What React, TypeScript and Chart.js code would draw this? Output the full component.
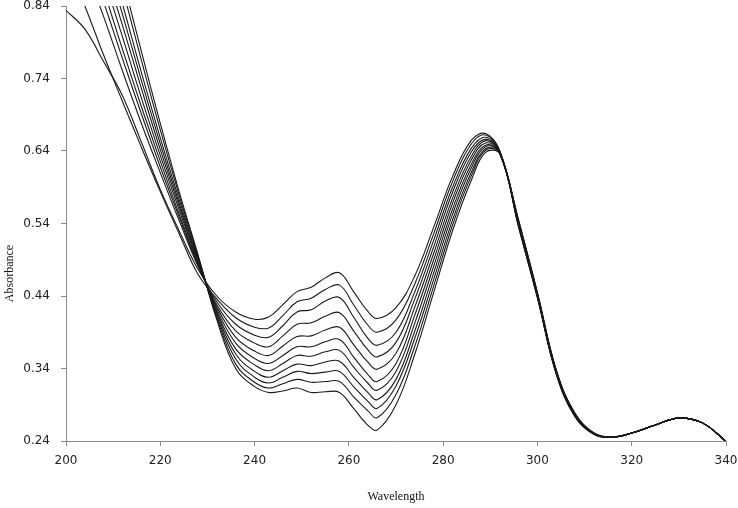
import React, { useEffect, useRef } from "react";
import { Chart, registerables } from "chart.js";

Chart.register(...registerables);

// Wavelength grid (nm)
const wavelengths = [
  200, 204, 208, 212, 216, 220, 224, 228, 232, 236, 240, 243, 246, 249, 252, 255, 258, 261, 264, 266,
  270, 274, 278, 282, 286, 289, 292, 296, 300, 304, 308, 312, 316, 320, 325, 330, 335, 340,
];

// Absorbance spectra
const curve1 = [
  0.834, 0.808, 0.763, 0.716, 0.652, 0.587, 0.530, 0.477, 0.440, 0.418, 0.408, 0.411, 0.428, 0.446, 0.452, 0.465, 0.472, 0.446, 0.419, 0.409,
  0.424, 0.468, 0.535, 0.605, 0.655, 0.664, 0.640, 0.545, 0.445, 0.338, 0.278, 0.251, 0.246, 0.251, 0.262, 0.2715, 0.265, 0.2395,
];
const curve2 = [
  0.902, 0.840, 0.772, 0.708, 0.645, 0.584, 0.526, 0.470, 0.436, 0.410, 0.397, 0.396, 0.413, 0.432, 0.437, 0.449, 0.455, 0.428, 0.400, 0.390,
  0.407, 0.457, 0.526, 0.598, 0.650, 0.662, 0.640, 0.544, 0.444, 0.337, 0.2775, 0.251, 0.246, 0.251, 0.262, 0.2715, 0.265, 0.2395,
];
const curve3 = [
  0.964, 0.895, 0.825, 0.750, 0.678, 0.610, 0.544, 0.481, 0.432, 0.401, 0.386, 0.383, 0.399, 0.418, 0.421, 0.433, 0.438, 0.411, 0.382, 0.372,
  0.390, 0.446, 0.517, 0.590, 0.644, 0.659, 0.640, 0.543, 0.443, 0.337, 0.277, 0.2506, 0.2458, 0.251, 0.262, 0.2715, 0.265, 0.2395,
];
const curve4 = [
  0.990, 0.918, 0.845, 0.767, 0.691, 0.618, 0.549, 0.483, 0.428, 0.392, 0.375, 0.370, 0.385, 0.401, 0.403, 0.412, 0.417, 0.392, 0.366, 0.356,
  0.376, 0.436, 0.508, 0.583, 0.639, 0.656, 0.639, 0.542, 0.443, 0.336, 0.2765, 0.2505, 0.2457, 0.251, 0.262, 0.2715, 0.265, 0.2395,
];
const curve5 = [
  1.011, 0.936, 0.861, 0.780, 0.701, 0.626, 0.553, 0.485, 0.425, 0.383, 0.364, 0.358, 0.371, 0.384, 0.385, 0.393, 0.397, 0.373, 0.349, 0.339,
  0.361, 0.425, 0.499, 0.575, 0.633, 0.654, 0.639, 0.541, 0.442, 0.336, 0.276, 0.2503, 0.2456, 0.251, 0.262, 0.2715, 0.265, 0.2395,
];
const curve6 = [
  1.036, 0.958, 0.879, 0.797, 0.713, 0.634, 0.559, 0.487, 0.422, 0.375, 0.354, 0.347, 0.358, 0.370, 0.370, 0.377, 0.380, 0.356, 0.332, 0.322,
  0.347, 0.414, 0.490, 0.568, 0.628, 0.651, 0.639, 0.540, 0.441, 0.335, 0.2755, 0.2501, 0.2455, 0.251, 0.262, 0.2715, 0.265, 0.2395,
];
const curve7 = [
  1.060, 0.979, 0.897, 0.813, 0.726, 0.642, 0.564, 0.489, 0.419, 0.367, 0.345, 0.337, 0.347, 0.358, 0.357, 0.363, 0.365, 0.342, 0.320, 0.310,
  0.336, 0.403, 0.481, 0.560, 0.622, 0.648, 0.638, 0.539, 0.440, 0.3345, 0.275, 0.250, 0.2454, 0.251, 0.262, 0.2715, 0.265, 0.2395,
];
const curve8 = [
  1.083, 0.999, 0.914, 0.828, 0.737, 0.650, 0.568, 0.491, 0.416, 0.360, 0.336, 0.328, 0.337, 0.346, 0.344, 0.349, 0.350, 0.328, 0.307, 0.297,
  0.325, 0.392, 0.472, 0.553, 0.617, 0.646, 0.638, 0.538, 0.4395, 0.334, 0.2745, 0.2498, 0.2453, 0.251, 0.262, 0.2715, 0.265, 0.2395,
];
const curve9 = [
  1.104, 1.017, 0.929, 0.842, 0.748, 0.658, 0.573, 0.493, 0.413, 0.353, 0.328, 0.320, 0.328, 0.336, 0.333, 0.335, 0.336, 0.315, 0.295, 0.285,
  0.316, 0.382, 0.463, 0.545, 0.611, 0.643, 0.637, 0.537, 0.439, 0.333, 0.274, 0.2496, 0.2452, 0.251, 0.262, 0.2715, 0.265, 0.2395,
];
const curve10 = [
  1.139, 1.047, 0.955, 0.863, 0.765, 0.669, 0.579, 0.495, 0.410, 0.346, 0.321, 0.313, 0.319, 0.325, 0.321, 0.322, 0.322, 0.301, 0.282, 0.272,
  0.304, 0.371, 0.454, 0.538, 0.606, 0.641, 0.637, 0.536, 0.438, 0.3325, 0.2735, 0.2494, 0.2451, 0.251, 0.262, 0.2715, 0.265, 0.2395,
];
const curve11 = [
  1.164, 1.069, 0.973, 0.878, 0.777, 0.678, 0.584, 0.497, 0.407, 0.340, 0.315, 0.307, 0.309, 0.313, 0.307, 0.308, 0.307, 0.285, 0.262, 0.255,
  0.290, 0.360, 0.445, 0.530, 0.600, 0.638, 0.636, 0.535, 0.437, 0.332, 0.273, 0.249, 0.245, 0.251, 0.262, 0.2715, 0.265, 0.2395,
];

const curves = [curve1, curve2, curve3, curve4, curve5, curve6, curve7, curve8, curve9, curve10, curve11];

const xTicks = [200, 220, 240, 260, 280, 300, 320, 340];
const yTicks = [0.24, 0.34, 0.44, 0.54, 0.64, 0.74, 0.84];
const xTitle = "Wavelength";
const yTitle = "Absorbance";

const AXIS_COLOR = "#8a8a8a";
const TICK_FONT = { family: "'DejaVu Sans', Verdana, sans-serif", size: 12, lineHeight: 1 };

const clearScalePadding = (scale: any) => {
  scale.paddingTop = 0;
  scale.paddingBottom = 0;
  scale.paddingLeft = 0;
  scale.paddingRight = 0;
};

export default function App() {
  const canvasRef = useRef<HTMLCanvasElement | null>(null);

  useEffect(() => {
    const canvas = canvasRef.current;
    if (!canvas) return;

    const yTitlePlugin = {
      id: "yTitlePlugin",
      afterDraw(chart: any) {
        const { ctx, chartArea } = chart;
        ctx.save();
        ctx.fillStyle = "#111";
        ctx.font = "12px 'Liberation Serif', 'Times New Roman', serif";
        ctx.textAlign = "center";
        ctx.textBaseline = "middle";
        const cy = chartArea.top + (chartArea.bottom - chartArea.top) * 0.615;
        ctx.translate(10, cy);
        ctx.rotate(-Math.PI / 2);
        ctx.fillText(yTitle, 0, 0);
        ctx.restore();
      },
    };

    const chart = new Chart(canvas, {
      type: "line",
      data: {
        datasets: curves.map((c, i) => ({
          label: `Spectrum ${i + 1}`,
          data: wavelengths.map((x, j) => ({ x, y: c[j] })),
          borderColor: "#1a1a1a",
          borderWidth: 1.1,
          pointRadius: 0,
          tension: 0.4,
          fill: false,
        })),
      },
      options: {
        responsive: false,
        animation: false,
        devicePixelRatio: 1,
        layout: { padding: { top: 6, right: 12, left: 0, bottom: 0 } },
        plugins: {
          legend: { display: false },
          tooltip: { enabled: false },
        },
        scales: {
          x: {
            type: "linear",
            min: 200,
            max: 340,
            afterBuildTicks: (scale: any) => {
              scale.ticks = xTicks.map((v) => ({ value: v }));
            },
            afterFit: (scale: any) => {
              scale.height = 67;
              clearScalePadding(scale);
            },
            grid: {
              display: true,
              drawOnChartArea: false,
              drawTicks: true,
              tickLength: 5,
              color: AXIS_COLOR,
            },
            border: { display: true, color: AXIS_COLOR, width: 1 },
            ticks: {
              autoSkip: false,
              maxRotation: 0,
              padding: 9,
              color: "#222",
              font: TICK_FONT,
              callback: (v: any) => String(v),
            },
            title: {
              display: true,
              text: xTitle,
              color: "#111",
              font: { family: "'Liberation Serif', 'Times New Roman', serif", size: 12, lineHeight: 1.2 },
              padding: { top: 0, bottom: 4 },
            },
          },
          y: {
            type: "linear",
            min: 0.24,
            max: 0.84,
            afterBuildTicks: (scale: any) => {
              scale.ticks = yTicks.map((v) => ({ value: v }));
            },
            afterFit: (scale: any) => {
              scale.width = 66;
              clearScalePadding(scale);
            },
            grid: {
              display: true,
              drawOnChartArea: false,
              drawTicks: true,
              tickLength: 5,
              color: AXIS_COLOR,
            },
            border: { display: true, color: AXIS_COLOR, width: 1 },
            ticks: {
              autoSkip: false,
              padding: 11,
              color: "#222",
              font: TICK_FONT,
              callback: (v: any) => Number(v).toFixed(2),
            },
          },
        },
      },
      plugins: [yTitlePlugin],
    });

    return () => {
      chart.destroy();
    };
  }, []);

  return (
    <div style={{ position: "fixed", left: 0, top: 0, width: 738, height: 508, background: "#fff" }}>
      <canvas ref={canvasRef} width={738} height={508} style={{ display: "block" }} />
    </div>
  );
}
